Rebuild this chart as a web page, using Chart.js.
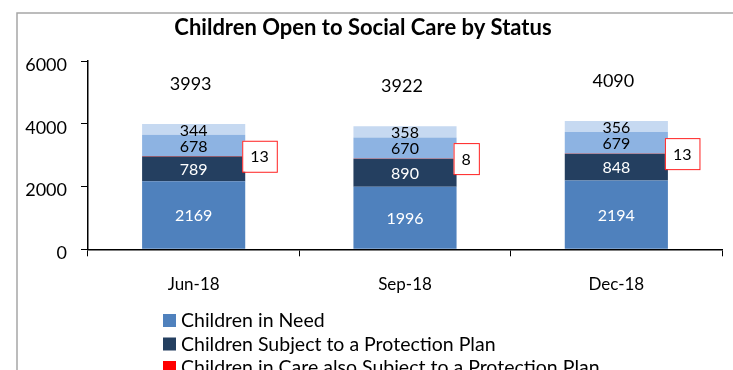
<!DOCTYPE html>
<html>
<head>
<meta charset="utf-8">
<script src="https://cdn.jsdelivr.net/npm/chart.js@4/dist/chart.umd.min.js"></script>
<style>
  html, body { margin: 0; padding: 0; background: #fff; }
  #wrap { width: 733px; height: 370px; position: relative; }
</style>
</head>
<body>
<div id="wrap"><canvas id="c" width="733" height="370"></canvas></div>
<script>
// Quarter-end snapshots
const quarters = ['Jun-18', 'Sep-18', 'Dec-18'];

// Counts by status, stacked bottom to top
const childrenInNeed = [2169, 1996, 2194];
const protectionPlan = [789, 890, 848];
const careAndProtection = [13, 8, 13];
const childrenInCare = [678, 670, 679];
const careLeavers = [344, 358, 356];

const yTicks = [0, 2000, 4000, 6000];

const FONT = 'Lato, "Liberation Sans", sans-serif';

const series = [
  { label: 'Children in Need', data: childrenInNeed, backgroundColor: '#4F81BD', text: '#ffffff' },
  { label: 'Children Subject to a Protection Plan', data: protectionPlan, backgroundColor: '#243F60', text: '#ffffff' },
  { label: 'Children in Care also Subject to a Protection Plan', data: careAndProtection, backgroundColor: '#FF0000', text: '#000000', boxed: true },
  { label: 'Children in Care', data: childrenInCare, backgroundColor: '#8DB3E2', text: '#000000' },
  { label: 'Care Leavers', data: careLeavers, backgroundColor: '#C6D9F1', text: '#000000' }
];

// Frame and title
const frame = {
  id: 'frame',
  beforeDraw(chart) {
    const ctx = chart.ctx;
    ctx.save();
    ctx.strokeStyle = '#a6a6a6';
    ctx.lineWidth = 1.5;
    ctx.strokeRect(17, 13, 800, 500);
    ctx.fillStyle = '#000';
    ctx.font = 'bold 22px ' + FONT;
    ctx.textAlign = 'center';
    ctx.textBaseline = 'middle';
    ctx.fillText('Children Open to Social Care by Status', 363, 28);
    ctx.restore();
  }
};

// Segment values, boxed small segment, totals above each bar
const valueLabels = {
  id: 'valueLabels',
  afterDatasetsDraw(chart) {
    const ctx = chart.ctx;
    const y = chart.scales.y;
    ctx.save();
    ctx.font = '16px ' + FONT;
    ctx.textAlign = 'center';
    ctx.textBaseline = 'middle';
    chart.data.datasets.forEach((ds, di) => {
      const meta = chart.getDatasetMeta(di);
      meta.data.forEach((bar, i) => {
        const v = ds.data[i];
        const cy = (bar.y + bar.base) / 2;
        const txt = String(v);
        if (ds.boxed) {
          const w = ctx.measureText(txt).width + 16;
          const h = 31;
          const left = bar.x + bar.width / 2 - 3;
          ctx.fillStyle = '#fff';
          ctx.fillRect(left, cy - h / 2, w, h);
          ctx.strokeStyle = '#ff2020';
          ctx.lineWidth = 1;
          ctx.strokeRect(left + 0.5, cy - h / 2 + 0.5, w, h);
          ctx.fillStyle = '#000';
          ctx.fillText(txt, left + w / 2, cy + 1);
        } else {
          ctx.fillStyle = ds.text;
          ctx.fillText(txt, bar.x, cy + 1);
        }
      });
    });
    // totals
    ctx.font = '18px ' + FONT;
    const top = chart.getDatasetMeta(chart.data.datasets.length - 1);
    top.data.forEach((bar, i) => {
      const total = chart.data.datasets.reduce((s, ds) => s + ds.data[i], 0);
      ctx.fillStyle = '#000';
      ctx.fillText(String(total), bar.x - 3, y.getPixelForValue(total) - 40);
    });
    ctx.restore();
  }
};

// Vertical legend below the axis
const sideLegend = {
  id: 'sideLegend',
  afterDraw(chart) {
    const ctx = chart.ctx;
    ctx.save();
    ctx.font = '19.5px ' + FONT;
    ctx.textAlign = 'left';
    ctx.textBaseline = 'middle';
    chart.data.datasets.forEach((ds, i) => {
      const top = 314 + i * 23.5;
      ctx.fillStyle = ds.backgroundColor;
      ctx.fillRect(163, top, 13, 13);
      ctx.fillStyle = '#000';
      ctx.fillText(ds.label, 181, top + 7);
    });
    ctx.restore();
  }
};

new Chart(document.getElementById('c'), {
  type: 'bar',
  data: {
    labels: quarters,
    datasets: series.map(s => ({
      label: s.label,
      data: s.data,
      backgroundColor: s.backgroundColor,
      text: s.text,
      boxed: !!s.boxed,
      borderWidth: 0,
      categoryPercentage: 1,
      barPercentage: 0.488
    }))
  },
  options: {
    responsive: false,
    animation: false,
    devicePixelRatio: 1,
    layout: { padding: { left: 0, right: 11, top: 61, bottom: 70.7 } },
    plugins: { legend: { display: false }, tooltip: { enabled: false }, title: { display: false } },
    scales: {
      x: {
        stacked: true,
        grid: { drawOnChartArea: false, drawTicks: true, tickLength: 7, color: '#000', offset: true },
        border: { display: true, color: '#000', width: 1.5 },
        ticks: { color: '#000', font: { family: FONT, size: 17 }, padding: 18 },
        afterFit(s) { s.height = 50; }
      },
      y: {
        stacked: true,
        min: 0,
        max: 6000,
        afterBuildTicks(s) { s.ticks = yTicks.map(v => ({ value: v })); },
        grid: { drawOnChartArea: false, drawTicks: true, tickLength: 7, color: '#000' },
        border: { display: true, color: '#000', width: 1.5 },
        ticks: { color: '#000', font: { family: FONT, size: 18 }, padding: 14, labelOffset: 4, callback: v => String(v) },
        afterFit(s) { s.width = 88; }
      }
    }
  },
  plugins: [frame, valueLabels, sideLegend]
});
</script>
</body>
</html>
